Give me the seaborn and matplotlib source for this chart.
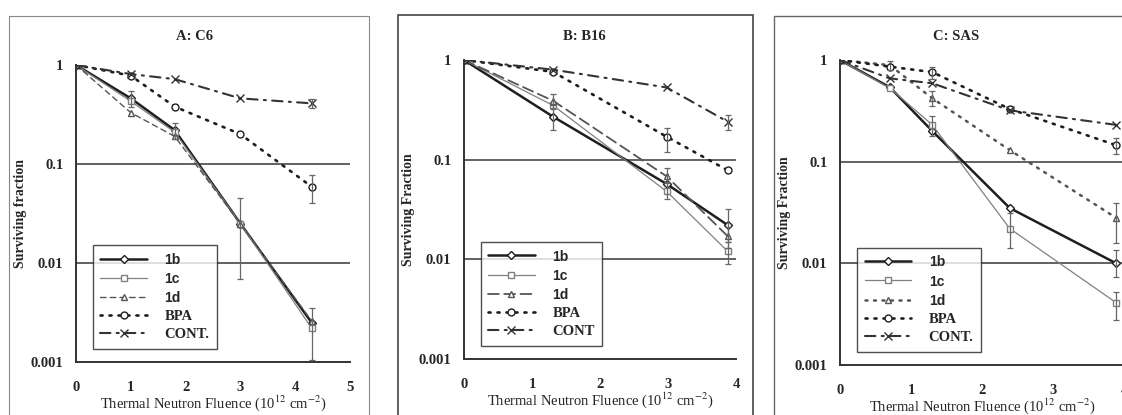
import numpy as np
import pandas as pd
import matplotlib
matplotlib.use("Agg")
import matplotlib.pyplot as plt
import seaborn as sns
from matplotlib.patches import Rectangle

# ------------------------------
# data
# ------------------------------
series_names = ["1b", "1c", "1d", "BPA", "CONT."]

# A: C6
xA = [0, 1.0, 1.8, 3.0, 4.3]
A_1b = [1, 0.46, 0.22, 0.025, 0.0025]
A_1c = [1, 0.43, 0.21, 0.025, 0.0022]
A_1d = [1, 0.33, 0.19, 0.025, 0.0026]
A_bpa = [1, 0.78, 0.38, 0.20, 0.059]
A_cont = [1, 0.81, 0.72, 0.46, 0.41]

# B: B16
xB = [0, 1.31, 2.98, 3.88]
B_1b = [1, 0.27, 0.057, 0.022]
B_1c = [1, 0.35, 0.048, 0.012]
B_1d = [1, 0.39, 0.068, 0.017]
B_bpa = [1, 0.76, 0.17, 0.078]
B_cont = [1, 0.80, 0.53, 0.24]

# C: SAS
xC = [0, 0.7, 1.3, 2.39, 3.89]
C_1b = [1, 0.54, 0.20, 0.035, 0.010]
C_1c = [1, 0.53, 0.23, 0.022, 0.0041]
C_1d = [1, 0.89, 0.42, 0.13, 0.028]
C_bpa = [1, 0.86, 0.76, 0.33, 0.145]
C_cont = [1, 0.66, 0.59, 0.32, 0.23]

# error bars (x, y, lower, upper)
errA_x = [3.0, 4.3, 4.3, 4.3, 1.0, 1.8]
errA_y = [0.025, 0.0025, 0.059, 0.41, 0.46, 0.22]
errA_lo = [0.0069, 0.00105, 0.040, 0.37, 0.38, 0.18]
errA_hi = [0.045, 0.0035, 0.077, 0.45, 0.55, 0.26]

errB_x = [1.31, 1.31, 2.98, 2.98, 3.88, 3.88, 3.88, 2.98, 3.88]
errB_y = [0.27, 0.39, 0.048, 0.068, 0.022, 0.012, 0.017, 0.17, 0.24]
errB_lo = [0.20, 0.32, 0.040, 0.058, 0.015, 0.009, 0.013, 0.12, 0.20]
errB_hi = [0.35, 0.46, 0.060, 0.082, 0.032, 0.015, 0.021, 0.21, 0.28]

errC_x = [1.3, 1.3, 1.3, 2.39, 3.89, 3.89, 3.89, 3.89, 0.7]
errC_y = [0.23, 0.42, 0.76, 0.022, 0.028, 0.010, 0.0041, 0.145, 0.89]
errC_lo = [0.18, 0.35, 0.65, 0.014, 0.016, 0.0074, 0.0028, 0.12, 0.80]
errC_hi = [0.28, 0.50, 0.86, 0.031, 0.039, 0.0135, 0.0052, 0.17, 0.98]

y_ticks = [1, 0.1, 0.01, 0.001]
y_ticklabels = ["1", "0.1", "0.01", "0.001"]
grid_levels = [0.1, 0.01]

# ------------------------------
# style
# ------------------------------
sns.set_theme(style="white")
plt.rcParams["font.family"] = ["Liberation Serif", "DejaVu Serif"]
plt.rcParams["mathtext.fontset"] = "stix"

styles = {
    "1b": dict(color="#1e1e1e", lw=1.8, marker="D", ms=4.5, dash=None),
    "1c": dict(color="#808080", lw=0.9, marker="s", ms=5, dash=None),
    "1d": dict(color="#555555", lw=1.0, marker="^", ms=5, dash=(4, 3)),
    "BPA": dict(color="#1e1e1e", lw=1.9, marker="o", ms=5, dash=(0.8, 2.6)),
    "CONT.": dict(color="#333333", lw=1.5, marker="x", ms=6, dash=(5, 3, 1, 3)),
}


def draw_panel(ax, x, ys, ex, ey, elo, ehi, xmax, ylabel, names, d_dash=None, d_lw=None):
    for key, name, y in zip(series_names, names, ys):
        st = styles[key]
        lw = st["lw"]
        dash = st["dash"]
        if key == "1d":
            if d_dash is not None:
                dash = d_dash
            if d_lw is not None:
                lw = d_lw
        df = pd.DataFrame({"x": x, "y": y})
        sns.lineplot(data=df, x="x", y="y", ax=ax, color=st["color"], lw=lw,
                     marker=st["marker"], markersize=st["ms"], markerfacecolor="white",
                     markeredgecolor=st["color"], markeredgewidth=1.0,
                     label=name, errorbar=None, sort=False)
        line = ax.lines[-1]
        if dash is not None:
            line.set_dashes(dash)
            line.set_dash_capstyle("round")
    ax.errorbar(ex, ey, yerr=[np.array(ey) - np.array(elo), np.array(ehi) - np.array(ey)],
                fmt="none", ecolor="#666666", elinewidth=0.9, capsize=2, capthick=0.9)
    for g in grid_levels:
        ax.axhline(g, color="#555555", lw=1.3, zorder=0)
    ax.set_yscale("log")
    ax.set_ylim(0.001, 1)
    ax.set_xlim(0, xmax)
    ax.set_yticks(y_ticks)
    ax.set_yticklabels(y_ticklabels)
    ax.minorticks_off()
    ax.set_xticks(range(0, xmax + 1))
    for s in ["top", "right"]:
        ax.spines[s].set_visible(False)
    for s in ["left", "bottom"]:
        ax.spines[s].set_color("#333333")
        ax.spines[s].set_linewidth(1.4)
    ax.tick_params(axis="x", direction="in", length=3, pad=14, labelsize=10.5)
    ax.tick_params(axis="y", length=0, pad=9, labelsize=10.5)
    for t in ax.get_xticklabels() + ax.get_yticklabels():
        t.set_fontweight("bold")
    ax.set_xlabel(r"Thermal Neutron Fluence (10$^{12}$ cm$^{-2}$)", fontsize=10.5, labelpad=-1)
    ax.set_ylabel(ylabel, fontsize=10, fontweight="bold", labelpad=3)
    leg = ax.legend(loc="lower left", bbox_to_anchor=(0.035, 0.02), frameon=True,
                    fancybox=False, edgecolor="#222222", handlelength=3.2,
                    handletextpad=1.2, labelspacing=0.35, borderpad=0.5,
                    prop={"weight": "bold", "size": 10.5})
    leg.get_frame().set_linewidth(1.0)
    for i, t in enumerate(leg.get_texts()):
        if i < 3:
            t.set_family(["Liberation Sans", "DejaVu Sans"])
            t.set_fontsize(10)


fig = plt.figure(figsize=(11.22, 4.15), dpi=100)
W, H = 1122, 415

axA = fig.add_axes([76 / W, 1 - 362 / H, 274 / W, 297 / H])
axB = fig.add_axes([464 / W, 1 - 359 / H, 272 / W, 299 / H])
axC = fig.add_axes([840 / W, 1 - 365 / H, 284 / W, 305 / H])

draw_panel(axA, xA, [A_1b, A_1c, A_1d, A_bpa, A_cont], errA_x, errA_y, errA_lo, errA_hi,
           5, "Surviving fraction", series_names)
draw_panel(axB, xB, [B_1b, B_1c, B_1d, B_bpa, B_cont], errB_x, errB_y, errB_lo, errB_hi,
           4, "Surviving Fraction", ["1b", "1c", "1d", "BPA", "CONT"], d_dash=(6, 3), d_lw=1.3)
draw_panel(axC, xC, [C_1b, C_1c, C_1d, C_bpa, C_cont], errC_x, errC_y, errC_lo, errC_hi,
           4, "Surviving Fraction", series_names, d_dash=(0.8, 2.6), d_lw=1.8)

# panel frames and titles
for (x0, x1, top, lw, ec) in [(9, 369, 16, 0.8, "#888888"), (398, 753, 15, 1.2, "#444444"),
                               (774, 1140, 16, 1.0, "#666666")]:
    fig.add_artist(Rectangle((x0 / W, -0.05), (x1 - x0) / W, 1 - top / H + 0.05,
                             transform=fig.transFigure, fill=False, lw=lw, ec=ec))

for txt, xc in [("A: C6", 195), ("B: B16", 584), ("C: SAS", 956)]:
    fig.text(xc / W, 1 - 37 / H, txt, ha="center", va="center", fontsize=10.5,
             fontweight="bold")

fig.savefig("out.png", dpi=100)
